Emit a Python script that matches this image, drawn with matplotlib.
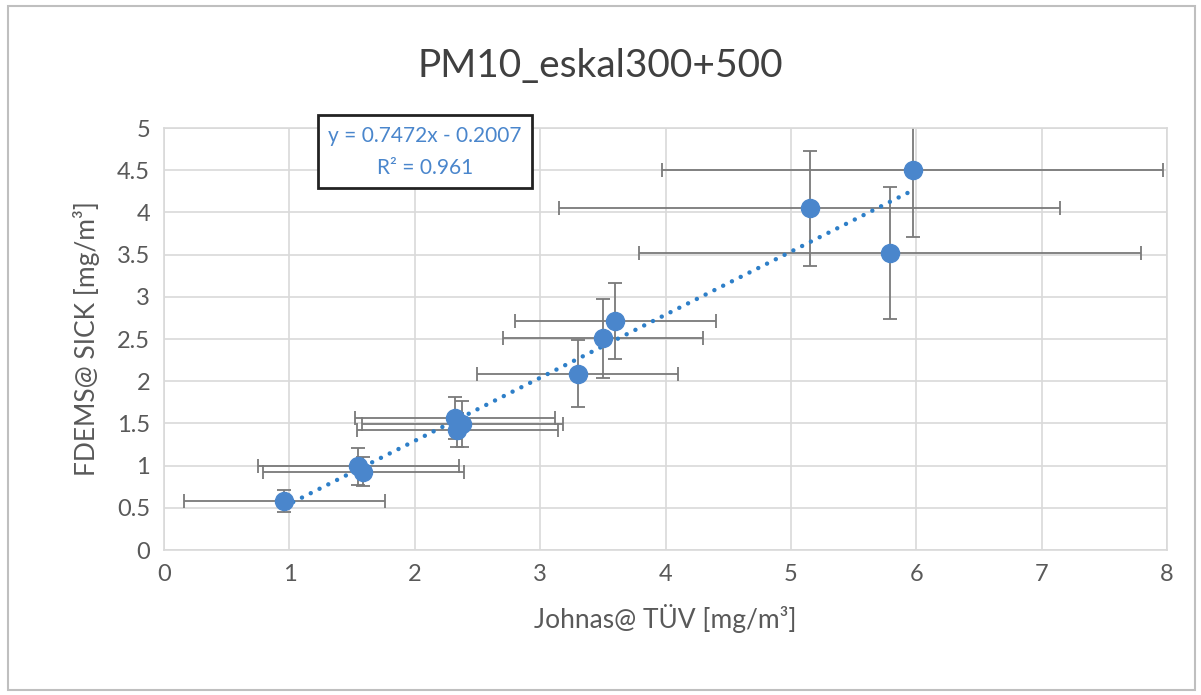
import matplotlib.pyplot as plt
import numpy as np
from matplotlib.patches import Rectangle

plt.rcParams['font.family'] = ['Lato', 'DejaVu Sans']

x = [0.96, 1.55, 1.59, 2.32, 2.38, 2.34, 3.30, 3.50, 3.60, 5.15, 5.97, 5.79]
y = [0.58, 0.99, 0.93, 1.56, 1.49, 1.42, 2.09, 2.51, 2.71, 4.05, 4.50, 3.52]
xerr = [0.80, 0.80, 0.80, 0.80, 0.80, 0.80, 0.80, 0.80, 0.80, 2.00, 2.00, 2.00]
yerr = [0.13, 0.22, 0.17, 0.25, 0.27, 0.20, 0.40, 0.47, 0.45, 0.68, 0.79, 0.78]

slope = 0.7472
intercept = -0.2007
r2 = 0.961

title = "PM10_eskal300+500"
xlabel = "Johnas@ TÜV [mg/m³]"
ylabel = "FDEMS@ SICK [mg/m³]"

blue = '#4a86cc'
grey_txt = '#595959'

fig = plt.figure(figsize=(12.01, 6.95), dpi=100)
fig.patches.append(Rectangle((0.007, 0.007), 0.988, 0.985, transform=fig.transFigure,
                             fill=False, edgecolor='#bfbfbf', linewidth=1.5))

ax = fig.add_axes([0.1366, 0.2086, 0.8351, 0.6072])

ax.errorbar(x, y, xerr=xerr, yerr=yerr, fmt='none', ecolor='#7a7a7a',
            elinewidth=1.3, capsize=5, capthick=1.3, zorder=2)
ax.plot(x, y, 'o', color=blue, markersize=13, zorder=4)

xt = np.array([min(x), max(x)])
ax.plot(xt, slope * xt + intercept, linestyle=(0, (0.01, 2.2)), color='#2e7fc8',
        linewidth=3.2, dash_capstyle='round', zorder=3)

ax.set_xlim(0, 8)
ax.set_ylim(0, 5)
ax.set_xticks(np.arange(0, 9, 1))
ax.set_yticks(np.arange(0, 5.01, 0.5))
ax.set_yticklabels(['0', '0.5', '1', '1.5', '2', '2.5', '3', '3.5', '4', '4.5', '5'])
ax.tick_params(length=0, labelsize=17, labelcolor=grey_txt, pad=10)
ax.grid(True, color='#d9d9d9', linewidth=1.2)
ax.set_axisbelow(True)
for s in ax.spines.values():
    s.set_color('#d9d9d9')
    s.set_linewidth(1.2)

ax.set_xlabel(xlabel, fontsize=19, color=grey_txt, labelpad=14)
ax.set_ylabel(ylabel, fontsize=19, color=grey_txt, labelpad=12)
fig.text(0.5, 0.905, title, fontsize=28, color='#404040', ha='center', va='center')

fig.text(0.354, 0.782, f"y = {slope}x - {abs(intercept)}\nR² = {r2}", fontsize=15,
         color=blue, ha='center', va='center', linespacing=1.75,
         bbox=dict(boxstyle='square,pad=0.5', facecolor='white', edgecolor='#222222', linewidth=2))

fig.savefig('out.png', dpi=100)
